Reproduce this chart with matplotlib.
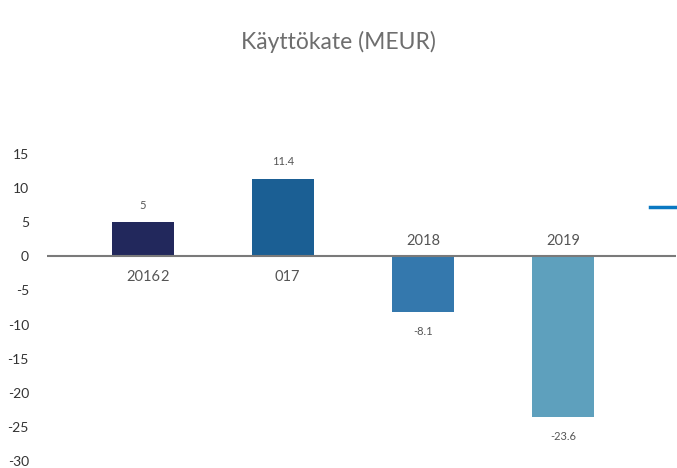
import matplotlib
matplotlib.use("Agg")
import matplotlib.pyplot as plt

years = ["2016", "2017", "2018", "2019"]
values = [5, 11.4, -8.1, -23.6]
value_labels = ["5", "11.4", "-8.1", "-23.6"]
bar_colors = ["#22285c", "#1b5f94", "#3478ad", "#5ea0bd"]
y_ticks = [15, 10, 5, 0, -5, -10, -15, -20, -25, -30]

plt.rcParams["font.family"] = ["Lato", "DejaVu Sans"]
text_gray = "#555555"

fig = plt.figure(figsize=(6.77, 4.68), dpi=100)
ax = fig.add_axes([47 / 677, 1 - 461 / 468, (676 - 47) / 677, (461 - 154) / 468])

x = list(range(len(years)))
ax.bar(x, values, width=0.443, color=bar_colors, zorder=2)
ax.axhline(0, color="#7a7a7a", linewidth=1.5, zorder=3)

ax.set_xlim(-0.686, 3.807)
ax.set_ylim(-30, 15)
ax.set_yticks(y_ticks)
ax.set_yticklabels([str(t) for t in y_ticks], color="#333333", fontsize=10)
ax.tick_params(axis="y", length=0, pad=13)
ax.set_xticks([])
for s in ax.spines.values():
    s.set_visible(False)

# value labels above positive bars, below negative bars
for xi, v, lab in zip(x, values, value_labels):
    off = 12 if v >= 0 else -14
    ax.annotate(lab, (xi, v), xytext=(0, off), textcoords="offset points",
                ha="center", va="center", fontsize=8, color=text_gray)

# category labels on the opposite side of the zero line
for xi, v, yr in zip(x, values, years):
    if v >= 0:
        if yr == "2017":
            ax.annotate("017", (xi, 0), xytext=(12, -15), textcoords="offset points",
                        ha="right", va="center", fontsize=10.5, color=text_gray)
        else:
            ax.annotate(yr, (xi, 0), xytext=(0, -15), textcoords="offset points",
                        ha="center", va="center", fontsize=10.5, color=text_gray)
    else:
        ax.annotate(yr, (xi, 0), xytext=(0, 11), textcoords="offset points",
                    ha="center", va="center", fontsize=10.5, color=text_gray)
# stray leading digit of the 2017 label
ax.annotate("2", (0, 0), xytext=(15.5, -15), textcoords="offset points",
            ha="center", va="center", fontsize=10.5, color=text_gray)

fig.text(0.5, 1 - 42 / 468, "Käyttökate (MEUR)", ha="center", va="center",
         fontsize=16.5, color="#6e6e6e")

# legend key stub at the right edge
fig.add_artist(plt.Line2D([650 / 677, 677 / 677], [1 - 207 / 468, 1 - 207 / 468],
                          color="#0a78c2", linewidth=2.5, transform=fig.transFigure))

fig.savefig("out.png", dpi=100)
